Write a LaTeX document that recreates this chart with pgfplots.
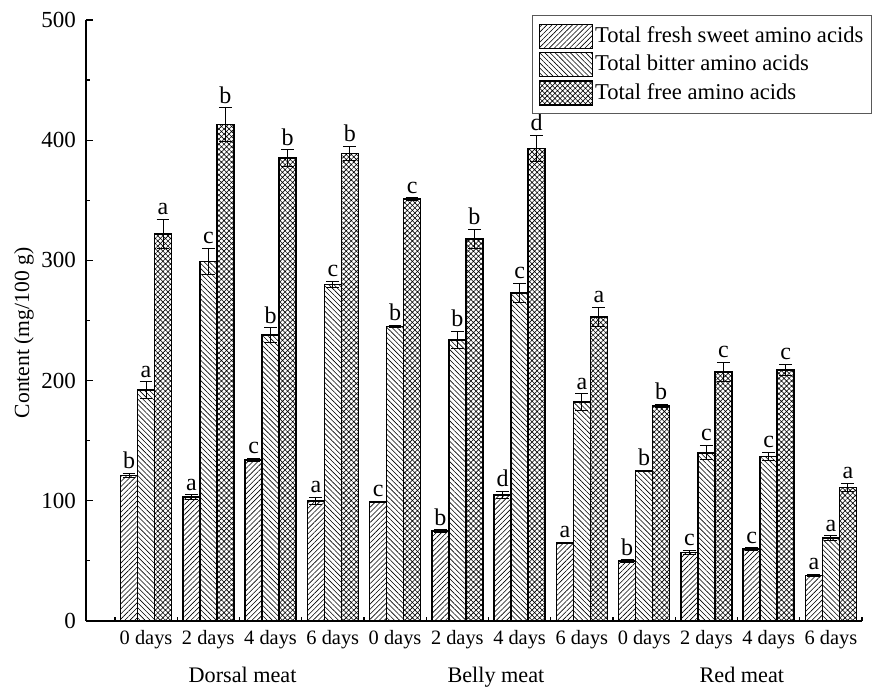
\documentclass[border=0pt]{standalone}
\usepackage{fontspec}
\setmainfont{Liberation Serif}
\usepackage{pgfplots}
\pgfplotsset{compat=1.18}
\usepackage{pgfplotstable}
\usetikzlibrary{patterns,patterns.meta}

\pgfplotstableread{
x sweet se bitter be free fe ls lb lf
0 121 2 192 7 322 12 b a a
1 103 2 299 11 413 14 a c b
2 134 1.5 238 6 385 7 c b b
3 100 3 280 2.5 389 6 a c b
4 99 0.5 245 1 351 1 c b c
5 75 1 234 7 318 8 b b b
6 105 3 273 8 393 11 d c d
7 65 0.5 182 7 253 8 a a a
8 50 1 125 0.5 179 1 b b b
9 57 2 140 6 207 8 c c c
10 60 1 137 3.5 209 4.5 c c c
11 38 1 69 2 111 3.5 a a a
}\data

\pgfplotsset{
  mylegend/.style={legend image code/.code={\draw[##1,line width=0.8pt] (0pt,-6pt) rectangle (26.5pt,6pt);}},
  mybar/.style={draw=black, line width=0.8pt,
    error bars/y dir=both, error bars/y explicit,
    error bars/error mark=-,
    error bars/error bar style={line width=0.5pt, black},
    error bars/error mark options={rotate=90, line width=0.5pt, mark size=3.2pt, black}},
  mylab/.style={draw=none, fill=none,
    nodes near coords, point meta=explicit symbolic,
    nodes near coords style={anchor=south, inner sep=0.5pt, yshift=1.5pt, font=\fontsize{12}{13}\selectfont, text=black}},
}

\begin{document}
\begin{tikzpicture}
\useasboundingbox (-43pt,-34pt) rectangle (399.5pt,310.5pt);
\begin{axis}[
  ybar, bar width=8.5pt,
  scale only axis, width=388pt, height=300.5pt,
  xmin=-0.965, xmax=11.5, ymin=0, ymax=500,
  clip=false,
  axis x line*=bottom, axis y line*=left,
  axis line style={line width=0.8pt, black},
  xtick={0,...,11},
  xticklabels={0 days,2 days,4 days,6 days,0 days,2 days,4 days,6 days,0 days,2 days,4 days,6 days},
  major x tick style={draw=none},
  minor xtick={-0.5,0.5,...,11.5},
  ytick={0,100,...,500}, yticklabels={0,100,200,300,400,500},
  minor ytick={50,150,...,450},
  tick align=inside,
  major tick length=3.5pt, minor tick length=2pt,
  tick style={line width=0.6pt, black},
  x tick label style={font=\fontsize{10.2}{12}\selectfont, yshift=-1pt},
  y tick label style={font=\fontsize{11.5}{13}\selectfont, xshift=-1.5pt},
  legend style={at={(axis description cs:1.0129,1.0083)}, anchor=north east,
    draw=black!65, line width=0.6pt, font=\fontsize{11.3}{13}\selectfont,
    row sep=1.3pt, inner xsep=3pt, inner ysep=4pt,
    nodes={inner sep=1pt}},
  legend cell align=left,
]
\addplot[mybar, bar shift=-8.5pt, pattern={Lines[angle=45,distance=1.8pt,line width=0.3pt]}, mylegend]
  table[x=x,y=sweet,y error=se]{\data};
\addlegendentry{Total fresh sweet amino acids}
\addplot[mybar, bar shift=0pt, pattern={Lines[angle=-45,distance=1.8pt,line width=0.3pt]}, mylegend]
  table[x=x,y=bitter,y error=be]{\data};
\addlegendentry{Total bitter amino acids}
\addplot[mybar, bar shift=8.5pt, pattern={Hatch[angle=45,distance=1.8pt,line width=0.3pt]}, mylegend]
  table[x=x,y=free,y error=fe]{\data};
\addlegendentry{Total free amino acids}

\addplot[mylab, bar shift=-8.5pt, forget plot] table[x=x, y expr=\thisrow{sweet}+\thisrow{se}, meta=ls]{\data};
\addplot[mylab, bar shift=0pt, forget plot] table[x=x, y expr=\thisrow{bitter}+\thisrow{be}, meta=lb]{\data};
\addplot[mylab, bar shift=8.5pt, forget plot] table[x=x, y expr=\thisrow{free}+\thisrow{fe}, meta=lf]{\data};

\node[anchor=base, font=\fontsize{11.1}{13}\selectfont] at (axis cs:1.55,0) [yshift=-30.8pt] {Dorsal meat};
\node[anchor=base, font=\fontsize{11.1}{13}\selectfont] at (axis cs:5.62,0) [yshift=-30.8pt] {Belly meat};
\node[anchor=base, font=\fontsize{11.1}{13}\selectfont] at (axis cs:9.57,0) [yshift=-30.8pt] {Red meat};
\end{axis}
\node[rotate=90, font=\fontsize{10.8}{13}\selectfont] at (-31pt,144pt) {Content (mg/100 g)};
\end{tikzpicture}
\end{document}
